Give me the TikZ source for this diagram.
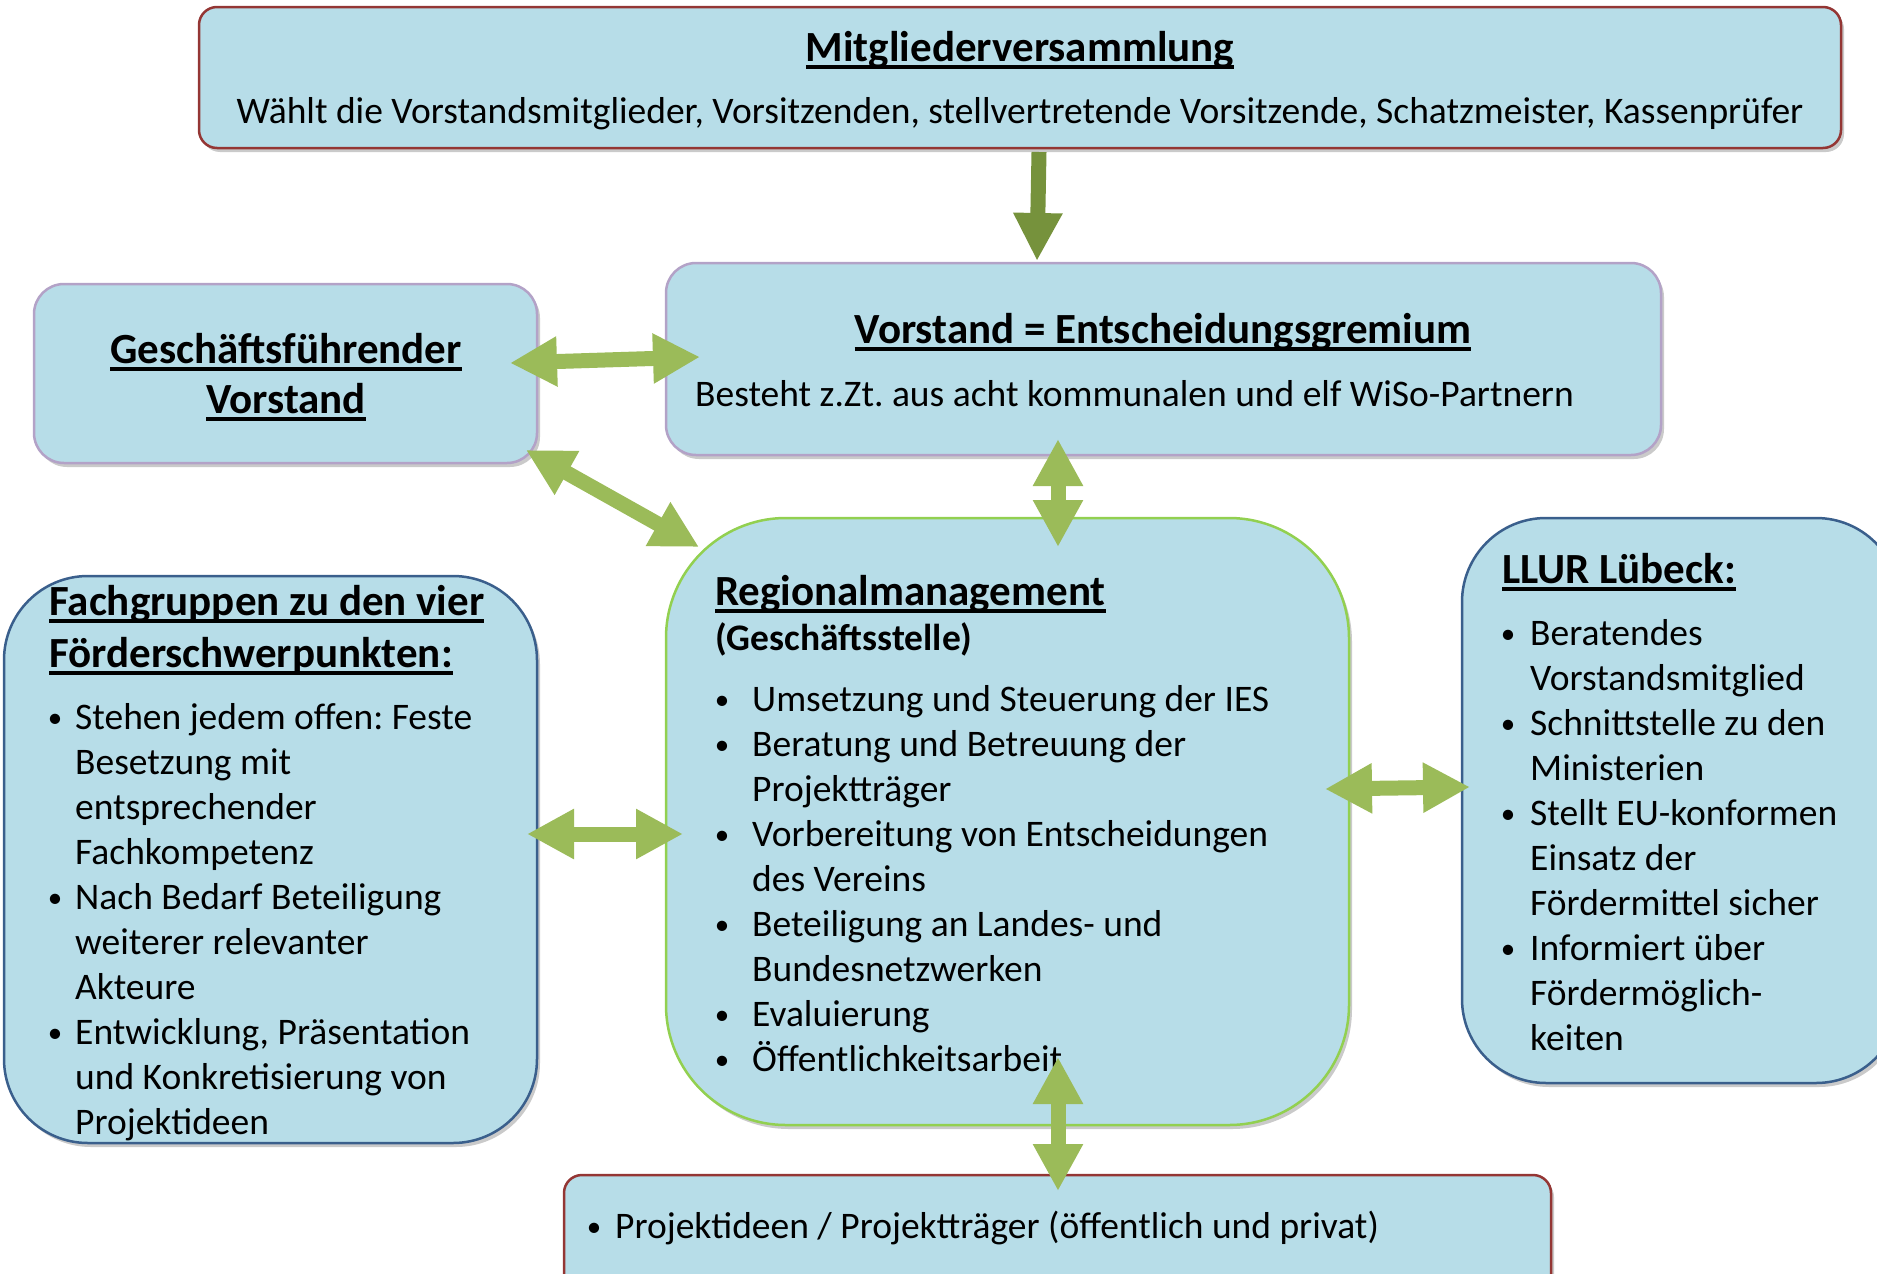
\documentclass[tikz,border=0pt]{standalone}
\usepackage{fontspec}
\setmainfont{Carlito}
\usetikzlibrary{arrows.meta,shadows}
\definecolor{boxfill}{HTML}{B7DDE8}
\definecolor{redb}{HTML}{943634}
\definecolor{lavb}{HTML}{B3A2C7}
\definecolor{grnb}{HTML}{92D050}
\definecolor{blub}{HTML}{3A5F8C}
\definecolor{arrl}{HTML}{9BBB59}
\definecolor{arrd}{HTML}{76923C}
\frenchspacing
\newcommand\ulx[1]{\leavevmode\setbox0\hbox{#1}\rlap{\rule[-7.5pt]{\wd0}{3.2pt}}\box0}
\newcommand\bl[1]{\llap{\makebox[0pt]{\raisebox{1.5pt}{\fontsize{29}{29}\selectfont\textbullet}}\hspace{#1}}}
\tikzset{
  box/.style={draw, line width=2.5pt, fill=boxfill, inner sep=0pt,
    drop shadow={shadow xshift=3pt, shadow yshift=-4pt, opacity=0.35, fill=black!60}},
  body/.style={inner sep=0pt, anchor=base west, font=\fontsize{37.5}{45}\selectfont},
  ttl/.style={inner sep=0pt, font=\bfseries\fontsize{43}{51}\selectfont},
  dbl/.style={draw=arrl, line width=15pt, {Triangle[width=47pt,length=47pt]}-{Triangle[width=47pt,length=47pt]}},
  sgl/.style={draw=arrd, line width=15pt, -{Triangle[width=46pt,length=48pt]}}
}
\begin{document}
\begin{tikzpicture}[x=1pt,y=-1pt]
\useasboundingbox (0,0) rectangle (1877,1274);
\clip (0,0) rectangle (1877,1274);
% boxes
\node[box, draw=redb, rounded corners=18pt, minimum width=1642pt, minimum height=141pt] (mv) at (1020,77.5) {};
\node[box, draw=lavb, rounded corners=30pt, minimum width=995pt, minimum height=192pt] (vs) at (1163.5,359) {};
\node[box, draw=lavb, rounded corners=30pt, minimum width=503pt, minimum height=179pt] (gf) at (285.5,373.5) {};
\node[box, draw=grnb, rounded corners=120pt, minimum width=683pt, minimum height=607pt] (rm) at (1007.5,821.5) {};
\node[box, draw=blub, rounded corners=84pt, minimum width=438pt, minimum height=565pt] (ll) at (1681,800.5) {};
\node[box, draw=blub, rounded corners=84pt, minimum width=533pt, minimum height=567pt] (fg) at (270.5,859.5) {};
\node[box, draw=redb, rounded corners=18pt, minimum width=987pt, minimum height=125pt] (pj) at (1057.5,1237.5) {};
% texts
\node[ttl, anchor=base] (mvt) at (1020,61) {\ulx{Mitgliederversammlung}};
\node[body, anchor=base] (mvb) at (1020,123) {Wählt die Vorstandsmitglieder, Vorsitzenden, stellvertretende Vorsitzende, Schatzmeister, Kassenprüfer};
\node[ttl, anchor=base] (vst) at (1163,343) {\ulx{Vorstand = Entscheidungsgremium}};
\node[body] (vsb) at (695,406) {Besteht z.Zt. aus acht kommunalen und elf WiSo-Partnern};
\node[ttl, anchor=base] (gft1) at (286,363) {\ulx{Geschäftsführender}};
\node[ttl, anchor=base] (gft2) at (286,413) {\ulx{Vorstand}};
\node[ttl, anchor=base west] (rmt) at (715,605) {\ulx{Regionalmanagement}};
\node[body] (rms) at (715,650) {\bfseries (Geschäftsstelle)};
\node[body] (rml) at (752,711) {\begin{tabular}[t]{@{}l@{}}
\bl{30pt}Umsetzung und Steuerung der IES\\
\bl{30pt}Beratung und Betreuung der\\
Projektträger\\
\bl{30pt}Vorbereitung von Entscheidungen\\
des Vereins\\
\bl{30pt}Beteiligung an Landes- und\\
Bundesnetzwerken\\
\bl{30pt}Evaluierung\\
\bl{30pt}Öffentlichkeitsarbeit
\end{tabular}};
\node[ttl, anchor=base west] (fgt1) at (49,615) {\ulx{Fachgruppen zu den vier}};
\node[ttl, anchor=base west] (fgt2) at (49,667) {\ulx{Förderschwerpunkten:}};
\node[body] (fgl) at (75,729) {\begin{tabular}[t]{@{}l@{}}
\bl{20pt}Stehen jedem offen: Feste\\
Besetzung mit\\
entsprechender\\
Fachkompetenz\\
\bl{20pt}Nach Bedarf Beteiligung\\
weiterer relevanter\\
Akteure\\
\bl{20pt}Entwicklung, Präsentation\\
und Konkretisierung von\\
Projektideen
\end{tabular}};
\node[ttl, anchor=base west] (llt) at (1502,583) {\ulx{LLUR Lübeck:}};
\node[body] (lll) at (1530,645) {\begin{tabular}[t]{@{}l@{}}
\bl{22pt}Beratendes\\
Vorstandsmitglied\\
\bl{22pt}Schnittstelle zu den\\
Ministerien\\
\bl{22pt}Stellt EU-konformen\\
Einsatz der\\
Fördermittel sicher\\
\bl{22pt}Informiert über\\
Fördermöglich-\\
keiten
\end{tabular}};
\node[body] (pjl) at (615,1238) {\bl{21pt}Projektideen / Projektträger (öffentlich und privat)};
% arrows
\coordinate (a1s) at (1039,152); \coordinate (a1e) at (1037,261);
\coordinate (a2s) at (510,363);  \coordinate (a2e) at (700,357);
\coordinate (a3s) at (526,450);  \coordinate (a3e) at (699,547);
\coordinate (a4s) at (1058,439); \coordinate (a4e) at (1058,547);
\coordinate (a5s) at (527,834);  \coordinate (a5e) at (683,834);
\coordinate (a6s) at (1325,789); \coordinate (a6e) at (1470,787);
\coordinate (a7s) at (1058,1057); \coordinate (a7e) at (1058,1191);
\draw[sgl] (a1s) -- (a1e);
\draw[dbl] (a2s) -- (a2e);
\draw[dbl] (a3s) -- (a3e);
\draw[dbl] (a4s) -- (a4e);
\draw[dbl] (a5s) -- (a5e);
\draw[dbl] (a6s) -- (a6e);
\draw[dbl] (a7s) -- (a7e);
\end{tikzpicture}
\end{document}
